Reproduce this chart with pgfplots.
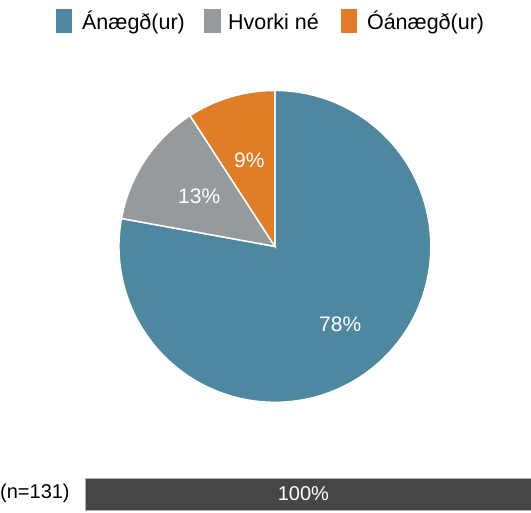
\documentclass[border=0pt]{standalone}
\usepackage{fontspec}
\setmainfont{Liberation Sans}
\usepackage{pgfplots}
\pgfplotsset{compat=1.18}
\definecolor{ansblue}{HTML}{4E87A0}
\definecolor{ansgray}{HTML}{959A9C}
\definecolor{ansorange}{HTML}{E07E27}
\definecolor{bardark}{HTML}{464646}
\begin{document}
\begin{tikzpicture}
% data: counts (n=131)
\def\vA{102}\def\vB{17}\def\vC{12}\def\N{131}
\pgfmathsetmacro\aZero{90}
\pgfmathsetmacro\aOne{90-\vA/\N*360}
\pgfmathsetmacro\aTwo{\aOne-\vB/\N*360}
\pgfmathsetmacro\aThree{\aTwo-\vC/\N*360}
\pgfmathsetmacro\mA{(\aZero+\aOne)/2}
\pgfmathsetmacro\mB{(\aOne+\aTwo)/2}
\pgfmathsetmacro\mC{(\aTwo+\aThree)/2}
\pgfmathtruncatemacro\pA{round(100*\vA/\N)}
\pgfmathtruncatemacro\pB{round(100*\vB/\N)}
\pgfmathtruncatemacro\pC{round(100*\vC/\N)}
\begin{axis}[name=canvas, hide axis, scale only axis, width=531pt, height=513pt,
  xmin=0, xmax=531, ymin=0, ymax=513, y dir=reverse, clip=false]
\path (axis cs:0,0) rectangle (axis cs:531,513);
\def\R{156pt}
\fill[ansblue, draw=white, line width=1.5pt] (axis cs:275,246.5) -- ++(\aZero:\R) arc[start angle=\aZero, end angle=\aOne, radius=\R] -- cycle;
\fill[ansgray, draw=white, line width=1.5pt] (axis cs:275,246.5) -- ++(\aOne:\R) arc[start angle=\aOne, end angle=\aTwo, radius=\R] -- cycle;
\fill[ansorange, draw=white, line width=1.5pt] (axis cs:275,246.5) -- ++(\aTwo:\R) arc[start angle=\aTwo, end angle=\aThree, radius=\R] -- cycle;
\node[text=white, font=\fontsize{21}{25}\selectfont] at ([shift={(\mA:102pt)}]axis cs:275,246.5) {\pA\%};
\node[text=white, font=\fontsize{21}{25}\selectfont] at ([shift={(\mB:91pt)}]axis cs:275,246.5) {\pB\%};
\node[text=white, font=\fontsize{21}{25}\selectfont] at ([shift={(\mC:90pt)}]axis cs:275,246.5) {\pC\%};
% legend
\fill[ansblue] (axis cs:56,9) rectangle (axis cs:72,33);
\node[anchor=base west, inner sep=0pt, font=\fontsize{21.5}{25}\selectfont] at (axis cs:82,29.5) {Ánægð(ur)};
\fill[ansgray] (axis cs:204,9) rectangle (axis cs:221,33);
\node[anchor=base west, inner sep=0pt, font=\fontsize{21.5}{25}\selectfont] at (axis cs:228,29.5) {Hvorki né};
\fill[ansorange] (axis cs:341,9) rectangle (axis cs:357,33);
\node[anchor=base west, inner sep=0pt, font=\fontsize{21.5}{25}\selectfont] at (axis cs:367,29.5) {Óánægð(ur)};
% bar label
\node[anchor=base west, inner sep=0pt, font=\fontsize{20}{24}\selectfont] at (axis cs:0,499) {(n=131)};
\coordinate (barSW) at (axis cs:85,510);
\end{axis}
\begin{axis}[at={(barSW)}, anchor=south west, hide axis, scale only axis,
  width=446pt, height=32pt, xmin=0, xmax=100, ymin=0.5, ymax=1.5,
  xbar, bar width=32pt, clip=false]
\addplot[fill=bardark, draw=gray!60, line width=0.5pt] coordinates {(100,1)};
\node[text=white, font=\fontsize{20}{24}\selectfont] at (axis cs:49,1) {100\%};
\end{axis}
\end{tikzpicture}
\end{document}
